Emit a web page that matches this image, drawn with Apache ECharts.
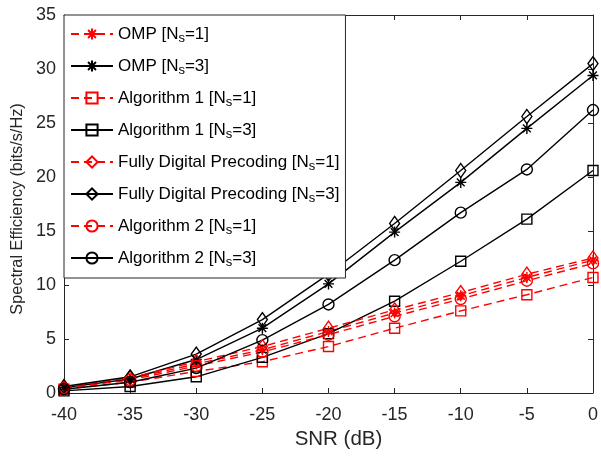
<!DOCTYPE html>
<html><head><meta charset="utf-8">
<script src="https://cdn.jsdelivr.net/npm/echarts@6/dist/echarts.min.js"></script>
<style>html,body{margin:0;padding:0;background:#fff}#c{width:601px;height:457px}</style>
</head><body><div id="c"></div>
<script>
const snr = [-40, -35, -30, -25, -20, -15, -10, -5, 0];
const xTicks = [-40, -35, -30, -25, -20, -15, -10, -5, 0];
const yTicks = [0, 5, 10, 15, 20, 25, 30, 35];
const omp1 = [0.5, 1.3, 2.7, 4.0, 5.7, 7.4, 9.0, 10.7, 12.3];
const omp3 = [0.5, 1.3, 3.1, 6.0, 10.1, 14.9, 19.5, 24.5, 29.4];
const alg1_1 = [0.35, 1.0, 2.0, 2.9, 4.3, 6.0, 7.6, 9.1, 10.7];
const alg1_3 = [0.2, 0.6, 1.5, 3.3, 5.5, 8.5, 12.2, 16.1, 20.6];
const fd1 = [0.55, 1.4, 2.9, 4.3, 6.0, 7.7, 9.3, 11.0, 12.5];
const fd3 = [0.6, 1.5, 3.6, 6.8, 11.0, 15.7, 20.6, 25.6, 30.5];
const alg2_1 = [0.45, 1.2, 2.5, 3.8, 5.4, 7.1, 8.7, 10.4, 12.0];
const alg2_3 = [0.35, 1.0, 2.3, 4.9, 8.2, 12.3, 16.7, 20.7, 26.2];
const names = ['OMP [N_s=1]', 'OMP [N_s=3]', 'Algorithm 1 [N_s=1]', 'Algorithm 1 [N_s=3]',
  'Fully Digital Precoding [N_s=1]', 'Fully Digital Precoding [N_s=3]', 'Algorithm 2 [N_s=1]', 'Algorithm 2 [N_s=3]'];

const ASTER = 'path://M0,-10L0,10M-10,0L10,0M-7.07,-7.07L7.07,7.07M-7.07,7.07L7.07,-7.07';
const DIAM = 'path://M0,-7L5,0L0,7L-5,0Z';
const SQ = 'path://M-5,-5L5,-5L5,5L-5,5Z';
const CIRC = 'circle';

function mk(name, data, color, dashed, symbol, size) {
  return {
    name: name, type: 'line', data: snr.map((x, i) => [x, data[i]]),
    symbol: symbol, symbolSize: size, showSymbol: true,
    lineStyle: { color: color, width: 1.4, type: dashed ? [8, 5] : 'solid' },
    itemStyle: { color: 'none', borderColor: color, borderWidth: 1.4 },
    emphasis: { disabled: true }, animation: false
  };
}
const series = [
  mk(names[0], omp1, '#ff0000', true, ASTER, 11),
  mk(names[1], omp3, '#000000', false, ASTER, 11),
  mk(names[2], alg1_1, '#ff0000', true, SQ, 10),
  mk(names[3], alg1_3, '#000000', false, SQ, 10),
  mk(names[4], fd1, '#ff0000', true, DIAM, [10, 14]),
  mk(names[5], fd3, '#000000', false, DIAM, [10, 14]),
  mk(names[6], alg2_1, '#ff0000', true, CIRC, 11),
  mk(names[7], alg2_3, '#000000', false, CIRC, 11)
];
const axisCol = '#262626';
const font = 'Liberation Sans, Arial, sans-serif';
const chart = echarts.init(document.getElementById('c'), null, { renderer: 'canvas' });
chart.setOption({
  animation: false,
  backgroundColor: '#fff',
  grid: { left: 64, right: 6, top: 15, bottom: 64, show: false },
  legend: {
    orient: 'vertical', left: 64, top: 15,
    data: names,
    backgroundColor: '#fff', borderColor: axisCol, borderWidth: 1, borderRadius: 0,
    padding: [8, 6, 9, 6],
    itemWidth: 42, itemHeight: 14, itemGap: 10,
    selectedMode: false,
    formatter: function (n) {
      const parts = n.split('N_s');
      return '{a|' + parts[0] + 'N}{s|s}{a|' + parts[1] + '}';
    },
    textStyle: {
      color: '#000', fontFamily: font, fontSize: 17,
      rich: {
        a: { fontSize: 17, fontFamily: font, color: '#000', lineHeight: 18 },
        s: { fontSize: 13, fontFamily: font, color: '#000', lineHeight: 18, padding: [9, 0, 0, 0] }
      }
    }
  },
  xAxis: [{
    type: 'value', min: -40, max: 0, interval: 5,
    name: 'SNR (dB)', nameLocation: 'middle', nameGap: 35,
    nameTextStyle: { fontFamily: font, fontSize: 20.5, color: axisCol, padding: [0, 0, 0, 20] },
    axisLine: { show: true, onZero: false, lineStyle: { color: axisCol, width: 1 } },
    axisTick: { show: true, inside: true, length: 5, lineStyle: { color: axisCol } },
    axisLabel: { fontFamily: font, fontSize: 18, color: axisCol, margin: 13,
      formatter: v => xTicks.includes(v) ? String(v) : '' },
    splitLine: { show: false }
  }, {
    type: 'value', min: -40, max: 0, interval: 5, position: 'top',
    axisLine: { show: true, onZero: false, lineStyle: { color: axisCol, width: 1 } },
    axisTick: { show: true, inside: true, length: 5, lineStyle: { color: axisCol } },
    axisLabel: { show: false }, splitLine: { show: false }
  }],
  yAxis: [{
    type: 'value', min: 0, max: 35, interval: 5,
    name: 'Spectral Efficiency (bits/s/Hz)', nameLocation: 'middle', nameGap: 37,
    nameTextStyle: { fontFamily: font, fontSize: 16.3, color: axisCol, padding: [0, 10, 0, 0] },
    axisLine: { show: true, onZero: false, lineStyle: { color: axisCol, width: 1 } },
    axisTick: { show: true, inside: true, length: 5, lineStyle: { color: axisCol } },
    axisLabel: { fontFamily: font, fontSize: 18, color: axisCol, margin: 8,
      formatter: v => yTicks.includes(v) ? String(v) : '' },
    splitLine: { show: false }
  }, {
    type: 'value', min: 0, max: 35, interval: 5, position: 'right',
    axisLine: { show: true, onZero: false, lineStyle: { color: axisCol, width: 1 } },
    axisTick: { show: true, inside: true, length: 5, lineStyle: { color: axisCol } },
    axisLabel: { show: false }, splitLine: { show: false }
  }],
  series: series
});
</script></body></html>
